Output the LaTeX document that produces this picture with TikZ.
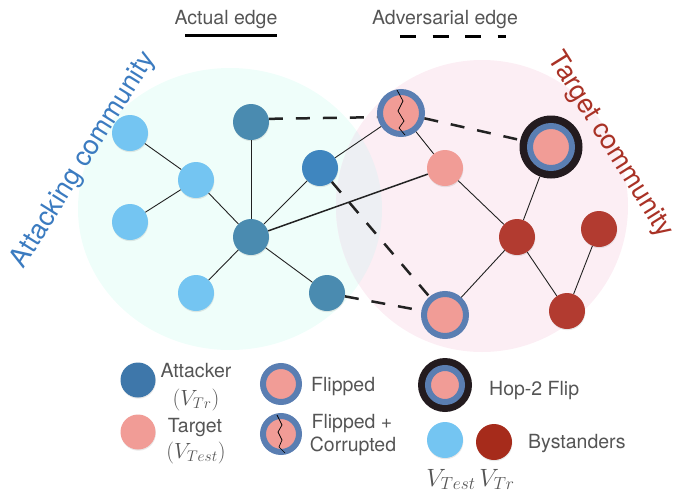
\RequirePackage{fix-cm}
\documentclass[tikz,border=0pt]{standalone}
\usepackage{fontspec}
\setmainfont{TeX Gyre Heros}
\usetikzlibrary{shadows}
\definecolor{cyanfill}{HTML}{EFFEFA}
\definecolor{pinkfill}{HTML}{FCEEF4}
\definecolor{overlapfill}{HTML}{EDEFF3}
\definecolor{lblue}{HTML}{74C5F2}
\definecolor{atk}{HTML}{4A8BB0}
\definecolor{atkb}{HTML}{3F86BF}
\definecolor{atkleg}{HTML}{3E77AA}
\definecolor{tgt}{HTML}{F19C96}
\definecolor{ringb}{HTML}{5A7EB2}
\definecolor{byst}{HTML}{B23B30}
\definecolor{bystleg}{HTML}{A62B1B}
\definecolor{hopk}{HTML}{231B1F}
\definecolor{txtgray}{HTML}{555555}
\definecolor{edgec}{HTML}{222222}
\definecolor{attxt}{HTML}{3B7BC0}
\definecolor{tgtxt}{HTML}{A93226}
\tikzset{
  nd/.style={circle, inner sep=0pt, minimum size=36pt,
    drop shadow={shadow xshift=0.4pt, shadow yshift=-1.2pt, opacity=0.18}},
  lbn/.style={nd, fill=lblue},
  atn/.style={nd, fill=atk},
  tgn/.style={nd, fill=tgt},
  byn/.style={nd, fill=byst},
  flipn/.style={circle, inner sep=0pt, minimum size=42pt, fill=tgt, draw=ringb, line width=6pt,
    drop shadow={shadow xshift=0.4pt, shadow yshift=-1.2pt, opacity=0.18}},
  hopn/.style={circle, inner sep=0pt, minimum size=63pt, fill=hopk},
  edge/.style={draw=edgec, line width=0.9pt},
  adv/.style={draw=edgec, line width=2.5pt, dash pattern=on 14pt off 13pt},
  zig/.style={draw=black, line width=0.7pt},
  lab/.style={text=txtgray, font=\fontsize{19.5}{22}\selectfont, inner sep=0pt},
  mlab/.style={text=txtgray, font=\fontsize{22}{24}\selectfont, inner sep=0pt},
}
\begin{document}
\begin{tikzpicture}[x=1pt,y=-1pt]
\useasboundingbox (0,0) rectangle (680,493);
% communities
\fill[cyanfill] (230,209) ellipse [x radius=152pt, y radius=141pt];
\fill[pinkfill] (482,206) circle (146pt);
\begin{scope}
  \clip (230,209) ellipse [x radius=152pt, y radius=141pt];
  \fill[overlapfill] (482,206) circle (146pt);
\end{scope}
\node[text=attxt, font=\fontsize{27}{30}\selectfont, rotate=58, inner sep=0pt] (attc) at (84,160) {Attacking community};
\node[text=tgtxt, font=\fontsize{27}{30}\selectfont, rotate=-58, inner sep=0pt] (tgtc) at (610,145) {Target community};
% legend edges
\node[lab, anchor=base] (actl) at (226,24) {Actual edge};
\coordinate (ae1) at (185,35);
\coordinate (ae2) at (277,35);
\draw[draw=black, line width=3pt] (ae1) -- (ae2);
\node[lab, anchor=base] (advl) at (445,24) {Adversarial edge};
\coordinate (ad1) at (400,36);
\coordinate (ad2) at (506,36);
\draw[draw=black, line width=3pt, dash pattern=on 16pt off 16.5pt] (ad1) -- (ad2);
% graph nodes
\node[lbn] (L1) at (130,133) {};
\node[lbn] (L2) at (196,180) {};
\node[lbn] (L3) at (130,222) {};
\node[lbn] (L4) at (196,293) {};
\node[atn] (A1) at (251,122) {};
\node[atn, fill=atkb] (A2) at (320,168) {};
\node[atn] (A3) at (251,237) {};
\node[atn] (A4) at (327,293) {};
\node[flipn] (F1) at (401,113) {};
\node[tgn] (T1) at (445,168) {};
\node[hopn] (H) at (551,147) {};
\node[flipn] (Hin) at (551,147) {};
\node[flipn] (F2) at (445,315) {};
\node[byn] (R1) at (517,237) {};
\node[byn] (R2) at (599,229) {};
\node[byn] (R3) at (567,311) {};
% edges
\draw[edge] (L1) -- (L2);
\draw[edge] (L3) -- (L2);
\draw[edge] (L2) -- (A3);
\draw[edge] (L4) -- (A3);
\draw[edge] (A1) -- (A3);
\draw[edge] (A2) -- (A3);
\draw[edge] (A3) -- (A4);
\draw[edge, line width=1.5pt] (A3) -- (T1);
\draw[edge] (A2) -- (F1);
\draw[edge] (F1) -- (T1);
\draw[edge] (T1) -- (R1);
\draw[edge] (H) -- (R1);
\draw[edge] (R1) -- (F2);
\draw[edge] (R1) -- (R3);
\draw[edge] (R2) -- (R3);
\draw[adv] (A1.10) -- (F1.190);
\draw[adv] (F1) -- (H);
\draw[adv] (A2) -- (F2);
\draw[adv] (A4) -- (F2);
% zigzag on F1
\draw[zig] ([shift={(-4,-23)}]F1.center) -- ++(6,11) -- ++(-5,10) -- ++(6,10) -- ++(-5,7) -- ++(6,7);
% legend nodes
\node[atn, fill=atkleg, minimum size=35pt] (lgA) at (138,380) {};
\node[lab, anchor=base] (lgAt) at (196,377) {Attacker};
\node[mlab, anchor=base] (lgAv) at (196,405) {$(V_{Tr})$};
\node[tgn, minimum size=35pt] (lgT) at (138,432) {};
\node[lab, anchor=base] (lgTt) at (195,432) {Target};
\node[mlab, anchor=base] (lgTv) at (196,458) {$(V_{Test})$};
\node[flipn, minimum size=36pt, line width=6pt] (lgF) at (281,384) {};
\node[lab, anchor=base west] (lgFt) at (311,391) {Flipped};
\node[flipn, minimum size=36pt, line width=6pt] (lgC) at (281,434) {};
\draw[zig] ([shift={(-4,-19)}]lgC.center) -- ++(5,10) -- ++(-4,7) -- ++(4,8) -- ++(-3,7) -- ++(6,6);
\node[lab, anchor=base] (lgCt1) at (352,428) {Flipped +};
\node[lab, anchor=base] (lgCt2) at (353,451) {Corrupted};
\node[hopn, minimum size=54pt] (lgH) at (445,385) {};
\node[circle, inner sep=0pt, minimum size=34pt, fill=tgt, draw=ringb, line width=6pt] (lgHin) at (445,385) {};
\node[lab, anchor=base west] (lgHt) at (489,395) {Hop-2 Flip};
\node[lbn] (lgB1) at (445,440) {};
\node[byn, fill=bystleg] (lgB2) at (494,442) {};
\node[lab, anchor=base west] (lgBt) at (528,448) {Bystanders};
\node[text=txtgray, font=\fontsize{25}{28}\selectfont, anchor=base, inner sep=0pt] (lgv1) at (451,486) {$V_{Test}$};
\node[text=txtgray, font=\fontsize{25}{28}\selectfont, anchor=base, inner sep=0pt] (lgv2) at (497,486) {$V_{Tr}$};
\end{tikzpicture}
\end{document}
